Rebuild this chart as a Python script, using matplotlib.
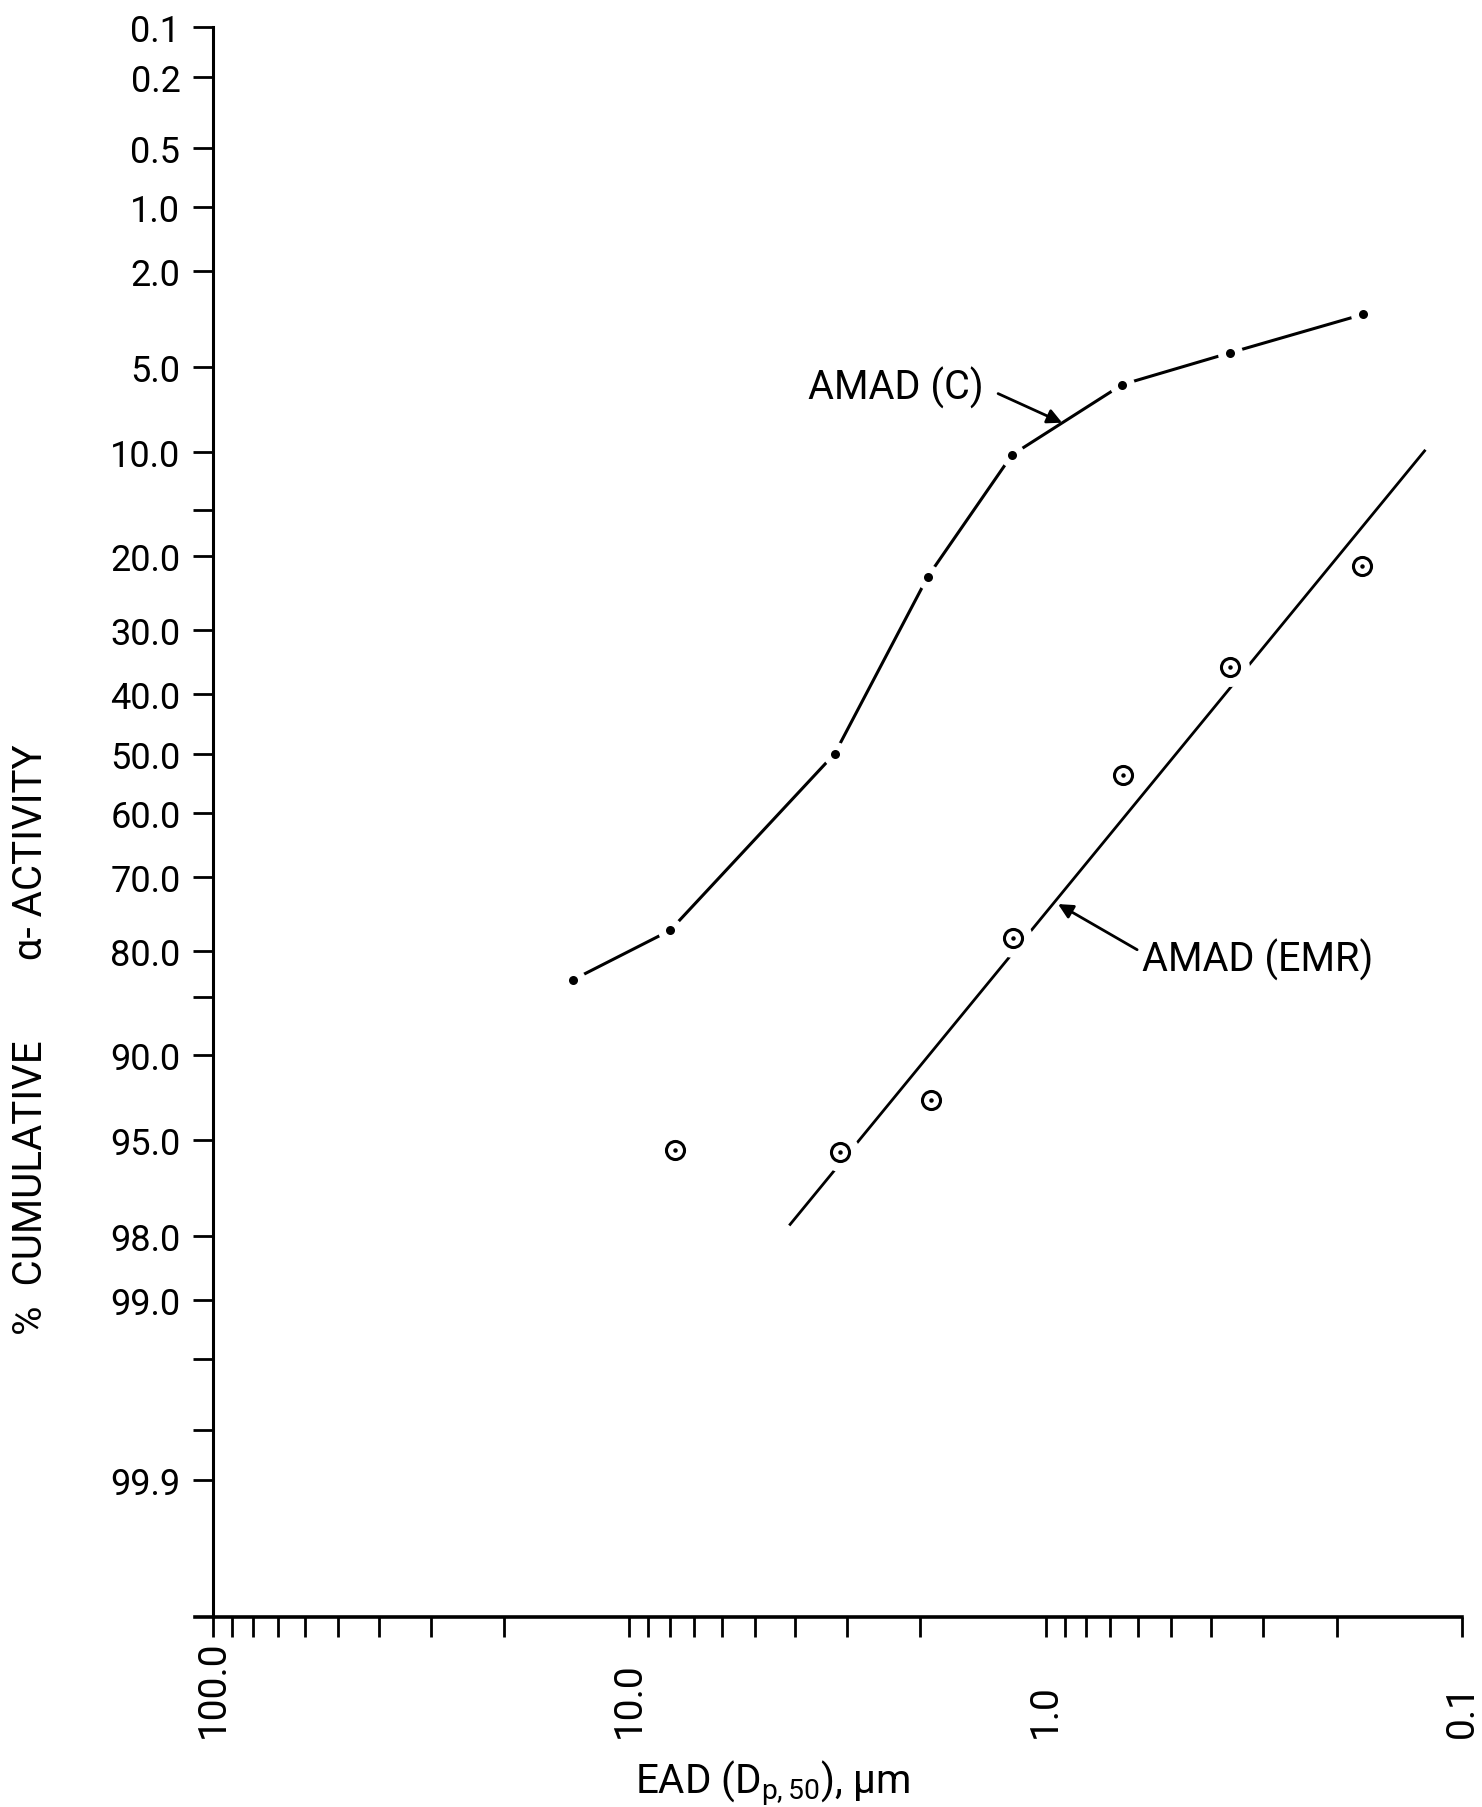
import numpy as np
import matplotlib
matplotlib.use("Agg")
import matplotlib.pyplot as plt
from matplotlib.ticker import FixedLocator, FixedFormatter, NullFormatter, LogLocator
from statistics import NormalDist

plt.rcParams['font.family'] = ['Roboto', 'DejaVu Sans']
plt.rcParams['mathtext.fontset'] = 'custom'
plt.rcParams['mathtext.rm'] = 'Roboto'
plt.rcParams['mathtext.default'] = 'regular'

# ---- data ----
c_ead = [13.65, 7.98, 3.21, 1.92, 1.205, 0.655, 0.36, 0.173]
c_cum = [83.2, 77.4, 50.0, 22.6, 10.2, 5.83, 4.41, 3.09]

emr_ead = [7.77, 3.12, 1.885, 1.198, 0.651, 0.36, 0.174]
emr_cum = [95.4, 95.5, 93.0, 78.4, 53.6, 35.7, 21.2]

emr_fit_ead = [4.11, 0.123]
emr_fit_cum = [97.74, 9.9]

y_major = [0.1, 0.2, 0.5, 1.0, 2.0, 5.0, 10.0, 20.0, 30.0, 40.0, 50.0, 60.0,
           70.0, 80.0, 90.0, 95.0, 98.0, 99.0, 99.9]
y_labels = ["0.1", "0.2", "0.5", "1.0", "2.0", "5.0", "10.0", "20.0", "30.0", "40.0",
            "50.0", "60.0", "70.0", "80.0", "90.0", "95.0", "98.0", "99.0", "99.9"]
y_unlabeled = [15.0, 85.0, 99.5, 99.8]

x_major = [100.0, 10.0, 1.0, 0.1]
x_labels = ["100.0", "10.0", "1.0", "0.1"]

# ---- probability scale ----
_nd = NormalDist()
_ppf = np.vectorize(_nd.inv_cdf, otypes=[float])
_cdf = np.vectorize(_nd.cdf, otypes=[float])


def fwd(p):
    p = np.asarray(p, dtype=float)
    return _ppf(np.clip(p / 100.0, 1e-9, 1 - 1e-9))


def inv(z):
    z = np.asarray(z, dtype=float)
    return 100.0 * _cdf(z)


W, H = 1482, 1808
fig = plt.figure(figsize=(W / 100, H / 100), dpi=100)
ax_l, ax_r, ax_t, ax_b = 195, 1462, 28, 1618
ax = fig.add_axes([ax_l / W, 1 - ax_b / H, (ax_r - ax_l) / W, (ax_b - ax_t) / H])

ax.set_xscale('log')
ax.set_yscale('function', functions=(fwd, inv))
ax.set_xlim(110.5, 0.1)
ax.set_ylim(99.988, 0.1)

# AMAD (C): line with dots (white halo gives gaps)
ax.plot(c_ead, c_cum, color='black', lw=2.2, zorder=2)
ax.plot(c_ead, c_cum, 'o', ms=18, color='white', mec='none', zorder=3)
ax.plot(c_ead, c_cum, 'o', ms=6.5, color='black', mec='none', zorder=4)

# AMAD (EMR): fitted line with circled dots
ax.plot(emr_fit_ead, emr_fit_cum, color='black', lw=2.0, zorder=2)
ax.plot(emr_ead, emr_cum, 'o', ms=28, color='white', mec='none', zorder=3)
ax.plot(emr_ead, emr_cum, 'o', ms=13, mfc='white', mec='black', mew=2.2, zorder=4)
ax.plot(emr_ead, emr_cum, 'o', ms=3.2, color='black', mec='none', zorder=5)

# annotations
arrow_kw = dict(arrowstyle='-|>', lw=2, color='black', mutation_scale=22,
                shrinkA=0, shrinkB=0)
ax.text(3.72, 5.93, "AMAD (C)", fontsize=28.5, ha='left', va='center')
ax.annotate("", xy=(0.913, 7.97), xytext=(1.301, 6.29), arrowprops=arrow_kw)
ax.text(0.587, 80.9, "AMAD (EMR)", fontsize=28.5, ha='left', va='center')
ax.annotate("", xy=(0.934, 73.9), xytext=(0.603, 79.8), arrowprops=arrow_kw)

# axes styling
for s in ['top', 'right']:
    ax.spines[s].set_visible(False)
ax.spines['left'].set_position(('data', 100.0))
ax.spines['left'].set_linewidth(2.2)
ax.spines['bottom'].set_linewidth(2.6)

ax.yaxis.set_major_locator(FixedLocator(y_major))
ax.yaxis.set_major_formatter(FixedFormatter(y_labels))
ax.yaxis.set_minor_locator(FixedLocator(y_unlabeled))
ax.yaxis.set_minor_formatter(NullFormatter())
ax.tick_params(axis='y', which='both', direction='out', length=14.5, width=2.0,
               labelsize=26, pad=9)

ax.xaxis.set_major_locator(FixedLocator(x_major))
ax.xaxis.set_major_formatter(FixedFormatter(x_labels))
ax.xaxis.set_minor_locator(LogLocator(base=10, subs=np.arange(2, 10)))
ax.xaxis.set_minor_formatter(NullFormatter())
ax.tick_params(axis='x', which='both', direction='out', length=14.5, width=2.0,
               labelsize=28, pad=72)
for lab in ax.get_xticklabels():
    lab.set_rotation(90)
    lab.set_va('bottom')
    lab.set_ha('center')

ax.set_xlabel("EAD (D$_{p,50}$), μm", fontsize=29, va='center')
ax.xaxis.set_label_coords((773 - ax_l) / (ax_r - ax_l), (ax_b - 1784) / (ax_b - ax_t))
ax.set_ylabel("%  CUMULATIVE        α- ACTIVITY", fontsize=29, va='center')
ax.yaxis.set_label_coords((30 - ax_l) / (ax_r - ax_l), (ax_b - 1040) / (ax_b - ax_t))

fig.savefig("out.png", dpi=100, facecolor='white')
